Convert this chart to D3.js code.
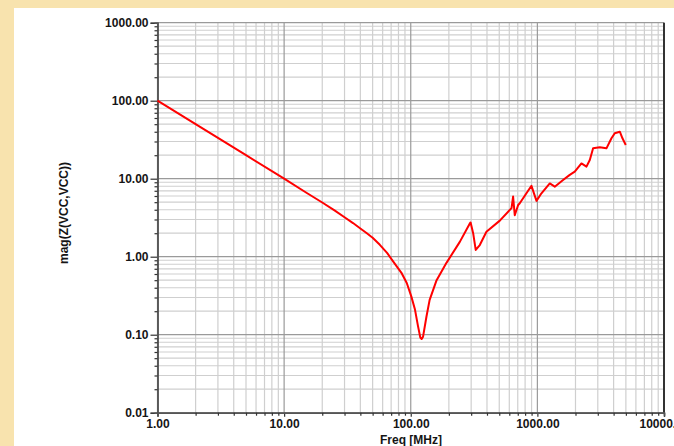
<!DOCTYPE html>
<html>
<head>
<meta charset="utf-8">
<script src="https://cdn.jsdelivr.net/npm/d3@7/dist/d3.min.js"></script>
<style>
  html, body { margin: 0; padding: 0; background: #f8e3ae; }
  svg { display: block; }
  text { font-family: "Liberation Sans", Arial, sans-serif; font-weight: bold; fill: #151515; }
</style>
</head>
<body>
<svg id="chart" width="674" height="446"></svg>
<script>
// Impedance magnitude of the VCC node versus frequency
const freqMHz = [1, 2, 5, 10, 15, 20, 25, 30, 35, 40, 45, 50, 57, 65, 73, 85, 93, 101, 108, 114, 119, 122, 125, 133, 141,
  160, 192, 244, 292, 297, 311, 326, 351, 396, 505, 625, 643, 663, 705, 726, 845, 898, 984, 1077,
  1253, 1372, 1595, 1802, 1974, 2228, 2442, 2594, 2755, 3110, 3511, 3847, 4085, 4478, 4698, 4990];
const magZ = [100, 50, 20, 10, 6.6, 4.95, 3.92, 3.2, 2.7, 2.3, 2.0, 1.75, 1.42, 1.12, 0.86, 0.61, 0.46, 0.31, 0.21, 0.13, 0.092, 0.088, 0.094, 0.17, 0.28,
  0.50, 0.84, 1.55, 2.65, 2.75, 2.0, 1.22, 1.41, 2.09, 2.9, 4.2, 5.9, 3.4, 4.6, 4.85, 7.0, 8.1, 5.2, 6.5,
  8.7, 7.9, 9.6, 11.2, 12.3, 15.7, 14.3, 17.4, 24.5, 25.3, 24.5, 33, 38.2, 40, 33, 27];

const xTickValues = [1, 10, 100, 1000, 10000];
const xTickLabels = ["1.00", "10.00", "100.00", "1000.00", "10000.00"];
const yTickValues = [0.01, 0.1, 1, 10, 100, 1000];
const yTickLabels = ["0.01", "0.10", "1.00", "10.00", "100.00", "1000.00"];
const xTitle = "Freq [MHz]";
const yTitle = "mag(Z(VCC,VCC))";

const svg = d3.select("#chart");

// white panel inside the tan frame
svg.append("rect").attr("x", 14).attr("y", 8).attr("width", 660).attr("height", 438).attr("fill", "#ffffff");

const L = 157.5, R = 664, T = 22.7, B = 412.7;
const x = d3.scaleLog().domain([1, 10000]).range([L, R]);
const y = d3.scaleLog().domain([0.01, 1000]).range([B, T]);

// minor positions 2..9 within each decade
function minors(lo, hi) {
  const out = [];
  for (let p = lo; p < hi; p *= 10)
    for (let k = 2; k <= 9; k++) out.push(+(p * k).toPrecision(3));
  return out;
}
const xMinor = minors(1, 10000);
const yMinor = minors(0.01, 1000);

const grid = svg.append("g");
grid.selectAll(".vmin").data(xMinor).join("line")
  .attr("x1", d => x(d)).attr("x2", d => x(d)).attr("y1", T).attr("y2", B)
  .attr("stroke", "#cfcfcf").attr("stroke-width", 1.2);
grid.selectAll(".hmin").data(yMinor).join("line")
  .attr("x1", L).attr("x2", R).attr("y1", d => y(d)).attr("y2", d => y(d))
  .attr("stroke", "#cfcfcf").attr("stroke-width", 1.2);
grid.selectAll(".vmaj").data(xTickValues).join("line")
  .attr("x1", d => x(d)).attr("x2", d => x(d)).attr("y1", T).attr("y2", B)
  .attr("stroke", "#9a9a9a").attr("stroke-width", 1.2);
grid.selectAll(".hmaj").data(yTickValues).join("line")
  .attr("x1", L).attr("x2", R).attr("y1", d => y(d)).attr("y2", d => y(d))
  .attr("stroke", "#9a9a9a").attr("stroke-width", 1.2);

// right border of the plot
svg.append("line").attr("x1", R).attr("x2", R).attr("y1", T).attr("y2", B)
  .attr("stroke", "#333").attr("stroke-width", 2);

// axes
const yAxis = svg.append("g").attr("transform", `translate(${L},0)`)
  .call(d3.axisLeft(y).tickValues(yTickValues).tickFormat((d, i) => yTickLabels[i]).tickSize(7).tickPadding(2));
const yAxisMinor = svg.append("g").attr("transform", `translate(${L},0)`)
  .call(d3.axisLeft(y).tickValues(yMinor).tickFormat("").tickSize(3));
const xAxis = svg.append("g").attr("transform", `translate(0,${B})`)
  .call(d3.axisBottom(x).tickValues(xTickValues).tickFormat((d, i) => xTickLabels[i]).tickSize(4).tickPadding(3));
const xAxisMinor = svg.append("g").attr("transform", `translate(0,${B})`)
  .call(d3.axisBottom(x).tickValues(xMinor).tickFormat("").tickSize(3));

[yAxis, yAxisMinor, xAxis, xAxisMinor].forEach(g => {
  g.select(".domain").attr("stroke", "#555").attr("stroke-width", 1.5);
  g.selectAll(".tick line").attr("stroke", "#333").attr("stroke-width", 1.2);
  g.selectAll("text").attr("font-size", 12).attr("font-family", "Liberation Sans, Arial, sans-serif")
    .attr("font-weight", "bold").attr("fill", "#151515");
});

// impedance curve
const line = d3.line().x((d, i) => x(freqMHz[i])).y(d => y(d));
svg.append("path").datum(magZ).attr("d", line)
  .attr("fill", "none").attr("stroke", "#ff0000").attr("stroke-width", 2).attr("stroke-linejoin", "round");

// titles
svg.append("text").attr("x", 411).attr("y", 444).attr("text-anchor", "middle").attr("font-size", 12).text(xTitle);
svg.append("text").attr("transform", "translate(68,213) rotate(-90)").attr("text-anchor", "middle")
  .attr("font-size", 12).text(yTitle);
</script>
</body>
</html>
